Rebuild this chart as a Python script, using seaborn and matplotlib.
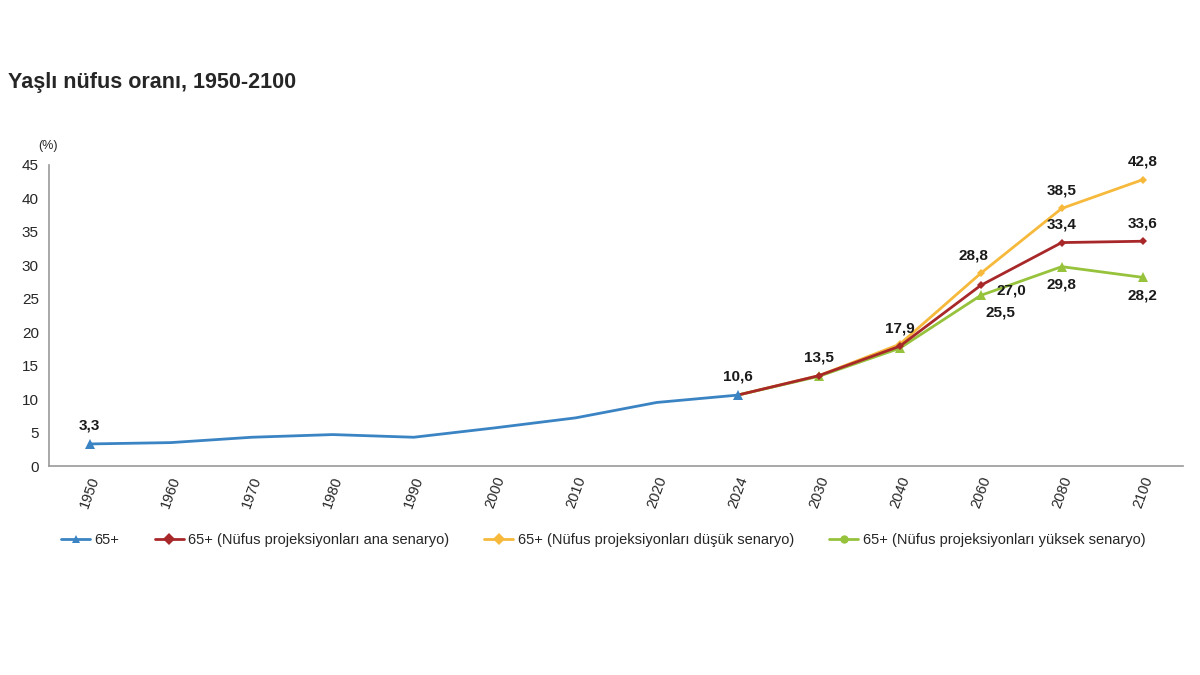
import matplotlib
matplotlib.use("Agg")
import matplotlib.pyplot as plt
import seaborn as sns
import pandas as pd
from matplotlib.lines import Line2D

years_obs = ["1950", "1960", "1970", "1980", "1990", "2000", "2010", "2020", "2024"]
obs = [3.3, 3.5, 4.3, 4.7, 4.3, 5.7, 7.2, 9.5, 10.6]

years_proj = ["2024", "2030", "2040", "2060", "2080", "2100"]
ana = [10.6, 13.5, 17.9, 27.0, 33.4, 33.6]
dusuk = [10.6, 13.5, 18.2, 28.8, 38.5, 42.8]
yuksek = [10.6, 13.4, 17.6, 25.5, 29.8, 28.2]

names = ["65+",
         "65+ (Nüfus projeksiyonları ana senaryo)",
         "65+ (Nüfus projeksiyonları düşük senaryo)",
         "65+ (Nüfus projeksiyonları yüksek senaryo)"]
colors = ["#3B84C4", "#A8282A", "#F6B93B", "#96C23C"]
markers = ["^", "D", "D", "^"]

sns.set_style("white")
plt.rcParams["font.family"] = ["Liberation Sans", "DejaVu Sans"]

fig = plt.figure(figsize=(12, 6.75), dpi=100)
ax = fig.add_axes([0.041, 0.3096, 0.945, 0.446])

all_years = years_obs + years_proj[1:]
pos = {y: i for i, y in enumerate(all_years)}

proj = [ana, dusuk, yuksek]
# yellow first, then green, red on top
for k in [2, 3, 1]:
    d = pd.DataFrame({"x": [pos[y] for y in years_proj], "v": proj[k - 1]})
    sns.lineplot(data=d, x="x", y="v", ax=ax, color=colors[k], lw=2,
                 marker=markers[k], markersize=4.5 if markers[k] == "D" else 6.5,
                 markevery=list(range(1, len(d))), markeredgewidth=0)

df_obs = pd.DataFrame({"x": [pos[y] for y in years_obs], "v": obs})
sns.lineplot(data=df_obs, x="x", y="v", ax=ax, color=colors[0], lw=2,
             marker=markers[0], markersize=7, markevery=[0, len(obs) - 1],
             markeredgewidth=0)


# data labels
def lab(year, val, dx=0.0, dy=8, va="bottom"):
    ax.annotate(f"{val:.1f}".replace(".", ","), (pos[year], val),
                xytext=(dx, dy), textcoords="offset points",
                ha="center", va=va, fontsize=11, fontweight="bold",
                color="#1a1a1a")


lab("1950", obs[0])
lab("2024", obs[-1])
lab("2030", ana[1])
lab("2040", ana[2])
lab("2060", dusuk[3], dx=-5)
lab("2060", ana[3], dx=22, dy=-4, va="center")
lab("2060", yuksek[3], dx=14, dy=-7, va="top")
lab("2080", dusuk[4])
lab("2080", ana[4])
lab("2080", yuksek[4], dy=-8, va="top")
lab("2100", dusuk[5])
lab("2100", ana[5])
lab("2100", yuksek[5], dy=-8, va="top")

ax.set_ylim(0, 45)
ax.set_yticks(range(0, 46, 5))
ax.set_xlim(-0.5, len(all_years) - 0.5)
ax.set_xticks(range(len(all_years)))
ax.set_xticklabels(all_years, rotation=70, fontsize=10.5)
ax.set_xticks([i - 0.5 for i in range(len(all_years) + 1)], minor=True)
ax.tick_params(axis="x", which="major", length=0, pad=6)
ax.tick_params(axis="x", which="minor", length=5, color="#999999", direction="out")
ax.tick_params(axis="y", length=4, color="#999999", direction="out", labelsize=11)
ax.set_xlabel("")
ax.set_ylabel("")
for s in ["top", "right"]:
    ax.spines[s].set_visible(False)
for s in ["left", "bottom"]:
    ax.spines[s].set_color("#999999")
    ax.spines[s].set_linewidth(1.2)

fig.text(0.032, 0.775, "(%)", fontsize=9, ha="left", va="bottom")
fig.text(0.007, 0.878, "Yaşlı nüfus oranı, 1950-2100", fontsize=15.5,
         fontweight="bold", ha="left", va="center")

handles = [Line2D([], [], color=c, lw=2, marker=m, markersize=6, markeredgewidth=0)
           for c, m in zip(colors, ["^", "D", "D", "o"])]
fig.legend(handles, names, loc="center left", bbox_to_anchor=(0.04, 0.2),
           ncol=4, frameon=False, fontsize=10.5, handlelength=2.0,
           handletextpad=0.3, columnspacing=2.4)

fig.savefig("out.png", dpi=100)
